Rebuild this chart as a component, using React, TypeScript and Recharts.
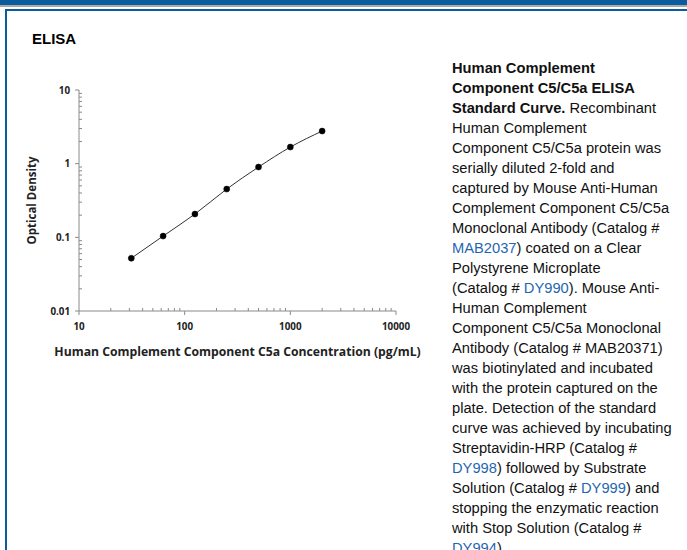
import { LineChart, Line, XAxis, YAxis } from 'recharts';

const concentrations = [31.25, 62.5, 125, 250, 500, 1000, 2000];
const opticalDensity = [0.052, 0.104, 0.207, 0.452, 0.9, 1.68, 2.77];

const xMajorTicks = [10, 100, 1000, 10000];
const yMajorTicks = [0.01, 0.1, 1, 10];
const minorSteps = [2, 3, 4, 5, 6, 7, 8, 9];

const minorOf = (majors: number[]) =>
  majors.slice(0, -1).flatMap((m) => minorSteps.map((s) => +(m * s).toPrecision(6)));

const xTicks = [...xMajorTicks, ...minorOf(xMajorTicks)].sort((a, b) => a - b);
const yTicks = [...yMajorTicks, ...minorOf(yMajorTicks)].sort((a, b) => a - b);

const data = concentrations.map((c, i) => ({ conc: c, od: opticalDensity[i] }));

const AXIS = '#8a8a8a';
const FONT = '"Open Sans", sans-serif';
const BLUE = '#0b5c9e';

const isMajor = (v: number) => Math.abs(Math.log10(v) - Math.round(Math.log10(v))) < 1e-9;

const XTick = (props: any) => {
  const { x, y, payload } = props;
  const major = isMajor(payload.value);
  return (
    <g>
      <line x1={x} x2={x} y1={y} y2={major ? y + 4 : y - 3} stroke={AXIS} strokeWidth={1} />
      {major && (
        <text x={x} y={y + 19} textAnchor="middle" fontFamily={FONT} fontWeight={700} fontSize={9.8} fill="#222">
          {payload.value}
        </text>
      )}
    </g>
  );
};

const YTick = (props: any) => {
  const { x, y, payload } = props;
  const major = isMajor(payload.value);
  return (
    <g>
      <line x1={x} x2={major ? x - 4 : x + 3} y1={y} y2={y} stroke={AXIS} strokeWidth={1} />
      {major && (
        <text x={x - 9} y={y + 3.5} textAnchor="end" fontFamily={FONT} fontWeight={700} fontSize={9.8} fill="#222">
          {payload.value}
        </text>
      )}
    </g>
  );
};

const link = (t: string) => <span style={{ color: '#1f66b0' }}>{t}</span>;

const lines: React.ReactNode[] = [
  <b>Human Complement</b>,
  <b>Component C5/C5a ELISA</b>,
  <><b>Standard Curve.</b> Recombinant</>,
  'Human Complement',
  'Component C5/C5a protein was',
  'serially diluted 2-fold and',
  'captured by Mouse Anti-Human',
  'Complement Component C5/C5a',
  'Monoclonal Antibody (Catalog #',
  <>{link('MAB2037')}) coated on a Clear</>,
  'Polystyrene Microplate',
  <>(Catalog # {link('DY990')}). Mouse Anti-</>,
  'Human Complement',
  'Component C5/C5a Monoclonal',
  'Antibody (Catalog # MAB20371)',
  'was biotinylated and incubated',
  'with the protein captured on the',
  'plate. Detection of the standard',
  'curve was achieved by incubating',
  'Streptavidin-HRP (Catalog #',
  <>{link('DY998')}) followed by Substrate</>,
  <>Solution (Catalog # {link('DY999')}) and</>,
  'stopping the enzymatic reaction',
  'with Stop Solution (Catalog #',
  <>{link('DY994')}).</>,
];

export default function App() {
  return (
    <div style={{ position: 'absolute', left: 0, top: 0, width: 687, height: 550, overflow: 'hidden', background: '#fff' }}>
      <div style={{ position: 'absolute', left: 0, top: 0, width: 687, height: 5, background: BLUE }} />
      <div style={{ position: 'absolute', left: 0, top: 5, width: 687, height: 2, background: '#a9a9a9' }} />
      <div style={{ position: 'absolute', left: 5, top: 9, width: 682, height: 2, background: BLUE }} />
      <div style={{ position: 'absolute', left: 5, top: 9, width: 2, height: 541, background: BLUE }} />

      <div style={{ position: 'absolute', left: 32, top: 30, fontFamily: '"Liberation Sans", Arial, sans-serif', fontWeight: 700, fontSize: 15 }}>
        ELISA
      </div>

      <div style={{ position: 'absolute', left: 0, top: 0 }}>
        <LineChart width={440} height={372} data={data} margin={{ top: 90, right: 44, bottom: 0, left: 0 }}>
          <XAxis
            dataKey="conc"
            type="number"
            scale="log"
            domain={[10, 10000]}
            ticks={xTicks}
            interval={0}
            allowDataOverflow
            height={61}
            stroke={AXIS}
            tickLine={false}
            tickSize={0}
            tickMargin={0}
            tick={<XTick />}
            label={{
              content: (p: any) => (
                <text
                  x={p.viewBox.x + p.viewBox.width / 2}
                  y={p.viewBox.y + 45}
                  textAnchor="middle"
                  fontFamily={FONT}
                  fontWeight={700}
                  fontSize={12.2}
                  fill="#222"
                >
                  Human Complement Component C5a Concentration (pg/mL)
                </text>
              ),
            }}
          />
          <YAxis
            dataKey="od"
            type="number"
            scale="log"
            domain={[0.01, 10]}
            ticks={yTicks}
            interval={0}
            allowDataOverflow
            width={79}
            stroke={AXIS}
            tickLine={false}
            tickSize={0}
            tickMargin={0}
            tick={<YTick />}
            label={{
              content: (p: any) => {
                const cx = 36;
                const cy = p.viewBox.y + p.viewBox.height / 2;
                return (
                  <text
                    x={cx}
                    y={cy}
                    transform={`rotate(-90 ${cx} ${cy})`}
                    textAnchor="middle"
                    fontFamily={FONT}
                    fontWeight={700}
                    fontSize={11.5}
                    fill="#222"
                  >
                    Optical Density
                  </text>
                );
              },
            }}
          />
          <Line
            type="monotone"
            dataKey="od"
            stroke="#333"
            strokeWidth={1}
            dot={{ r: 3, fill: '#000', stroke: '#000', strokeWidth: 0.5 }}
            isAnimationActive={false}
          />
        </LineChart>
      </div>

      <div
        style={{
          position: 'absolute',
          left: 452,
          top: 58,
          fontFamily: '"Liberation Sans", Arial, sans-serif',
          fontSize: 14.7,
          lineHeight: '20px',
          color: '#111',
          whiteSpace: 'nowrap',
        }}
      >
        {lines.map((l, i) => (
          <div key={i}>{l}</div>
        ))}
      </div>
    </div>
  );
}
